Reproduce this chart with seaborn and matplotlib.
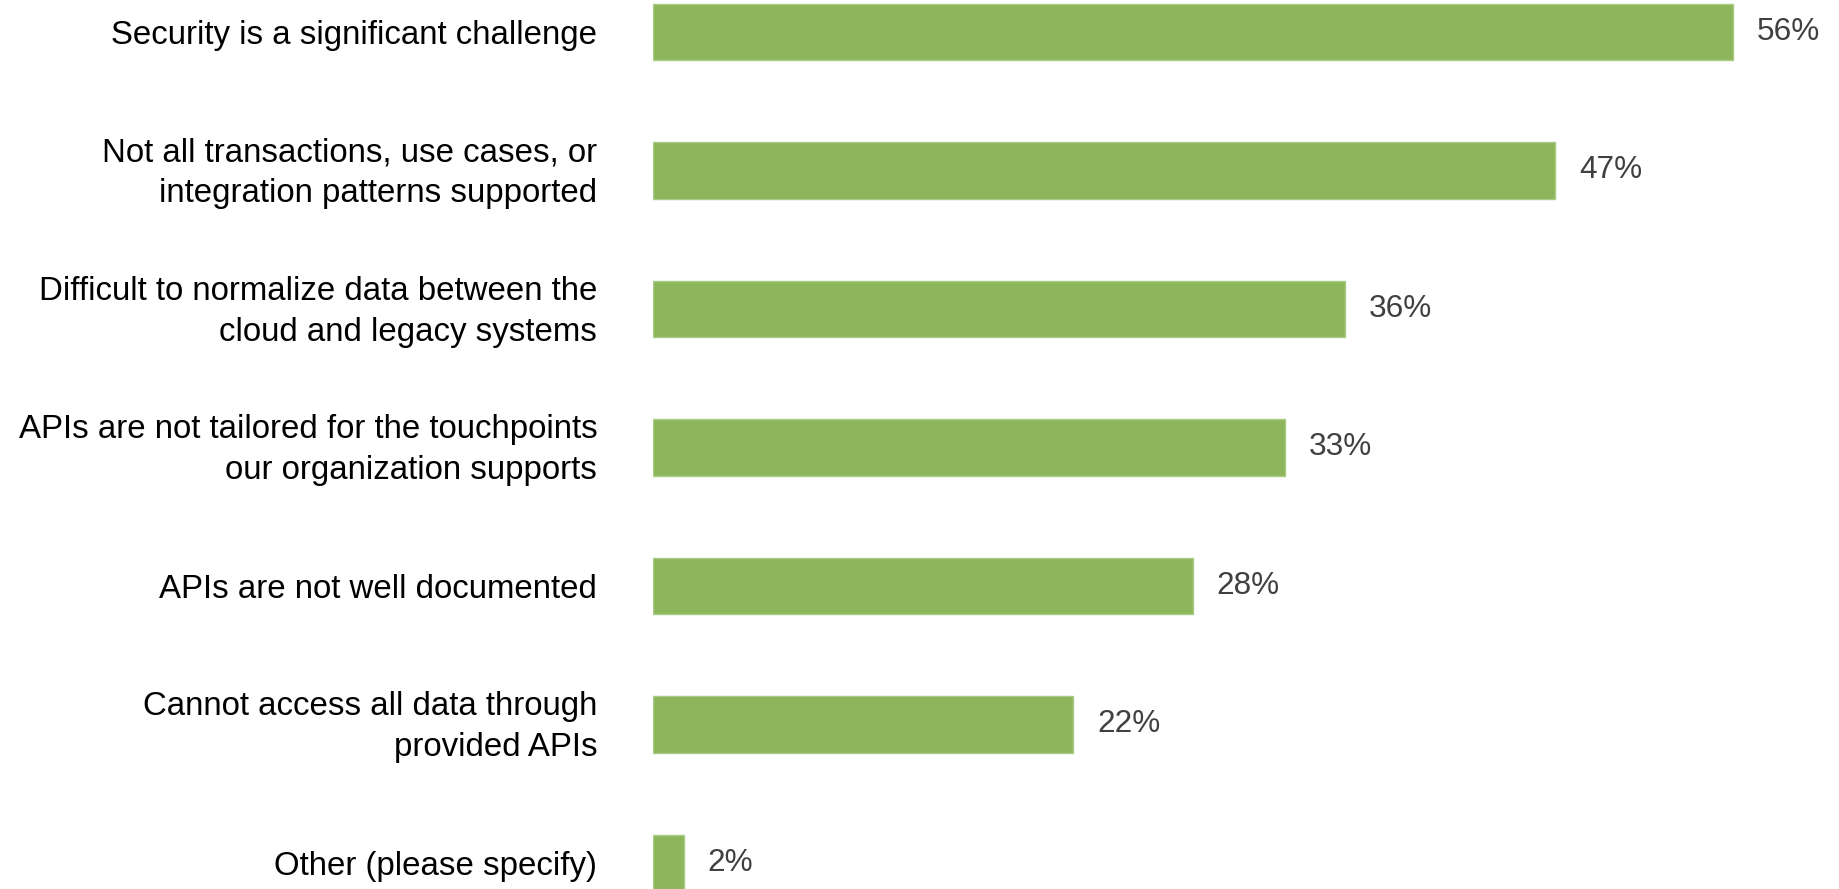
import matplotlib
matplotlib.use("Agg")
import matplotlib.pyplot as plt
import matplotlib.transforms as mtransforms
import seaborn as sns
import pandas as pd

categories = [
    "Security is a significant challenge",
    "Not all transactions, use cases, or\nintegration patterns supported",
    "Difficult to normalize data between the\ncloud and legacy systems",
    "APIs are not tailored for the touchpoints\nour organization supports",
    "APIs are not well documented",
    "Cannot access all data through\nprovided APIs",
    "Other (please specify)",
]
values = [56.0, 46.8, 35.9, 32.8, 28.0, 21.8, 1.6]
value_labels = ["56%", "47%", "36%", "33%", "28%", "22%", "2%"]

sns.set_theme(style="white")
plt.rcParams["font.family"] = ["Liberation Sans", "DejaVu Sans"]

df = pd.DataFrame({"category": categories, "value": values})

fig = plt.figure(figsize=(18.39, 8.89), dpi=100)
ax = fig.add_axes([0.355, 0.0, 0.645, 1.0])
sns.barplot(data=df, x="value", y="category", orient="h", color="#8DB65B",
            width=0.41, saturation=1, ax=ax, edgecolor="#A9CB85", linewidth=1)

ax.set_xlim(0, 61.5)
ax.set_ylim(6.188, -0.231)
ax.set_xlabel("")
ax.set_ylabel("")
ax.set_xticks([])
for s in ax.spines.values():
    s.set_visible(False)
ax.tick_params(axis="y", length=0, pad=40, labelsize=23.8, labelcolor="#000000")
shift = mtransforms.ScaledTranslation(0, 4 / 72, fig.dpi_scale_trans)
for t in ax.get_yticklabels():
    t.set_linespacing(1.4)
    if "\n" in t.get_text():
        t.set_transform(t.get_transform() + shift)

ax.bar_label(ax.containers[0], labels=value_labels, padding=17, fontsize=22.7, color="#404040")

fig.savefig("out.png", dpi=100)
